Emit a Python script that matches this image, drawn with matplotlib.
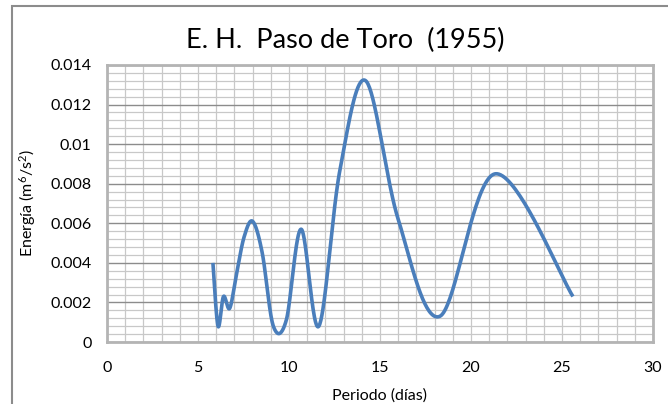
import numpy as np
import matplotlib
matplotlib.use("Agg")
import matplotlib.pyplot as plt
from matplotlib.patches import Rectangle
from matplotlib.ticker import MultipleLocator, FuncFormatter

plt.rcParams['font.family'] = ['Lato', 'DejaVu Sans']
plt.rcParams['mathtext.fontset'] = 'custom'
plt.rcParams['mathtext.rm'] = 'Lato'
plt.rcParams['mathtext.it'] = 'Lato:italic'

# periodos (dias) = 128/k, k = 22..5
periodo = [5.82, 6.10, 6.40, 6.74, 7.11, 7.53, 8.00, 8.53, 9.14, 9.85,
           10.67, 11.64, 12.80, 14.22, 16.00, 18.29, 21.33, 25.60]
energia = [0.0040, 0.0008, 0.0023, 0.0017, 0.0034, 0.0053, 0.0061, 0.0045, 0.0008, 0.0011,
           0.0057, 0.0008, 0.0087, 0.0132, 0.0062, 0.0013, 0.0085, 0.0023]

titulo = "E. H.  Paso de Toro  (1955)"
color_linea = "#4A7EBB"


def suavizar(x, y, n=40):
    # curva suavizada tipo Excel (Bezier / Catmull-Rom)
    p = np.column_stack([x, y])
    out = []
    for i in range(len(p) - 1):
        p0 = p[i - 1] if i > 0 else p[i]
        p1 = p[i]
        p2 = p[i + 1]
        p3 = p[i + 2] if i + 2 < len(p) else p[i + 1]
        c1 = p1 + (p2 - p0) / 6
        c2 = p2 - (p3 - p1) / 6
        t = np.linspace(0, 1, n)[:, None]
        seg = ((1 - t) ** 3) * p1 + 3 * ((1 - t) ** 2) * t * c1 + 3 * (1 - t) * t ** 2 * c2 + t ** 3 * p2
        out.append(seg if i == 0 else seg[1:])
    out = np.vstack(out)
    return out[:, 0], out[:, 1]


def fmt_y(v, pos):
    if abs(v) < 1e-12:
        return '0'
    return '%g' % round(v, 4)


fig = plt.figure(figsize=(6.68, 4.04), dpi=100)
fig.patches.append(Rectangle((12 / 668, -0.1), 1.2, (404 - 6) / 404 + 0.1,
                             transform=fig.transFigure, fill=False,
                             edgecolor="#8C8C8C", linewidth=1.5))

ax = fig.add_axes([107 / 668, 62 / 404, 546 / 668, 277 / 404])
xs, ys = suavizar(periodo, energia)
ax.plot(xs, ys, color=color_linea, linewidth=2.6, solid_capstyle='butt', zorder=3)

ax.set_xlim(0, 30)
ax.set_ylim(0, 0.014)
ax.xaxis.set_major_locator(MultipleLocator(5))
ax.xaxis.set_minor_locator(MultipleLocator(1))
ax.yaxis.set_major_locator(MultipleLocator(0.002))
ax.yaxis.set_minor_locator(MultipleLocator(0.0004))
ax.yaxis.set_major_formatter(FuncFormatter(fmt_y))
ax.grid(which='major', axis='y', color='#8C8C8C', linewidth=1.0)
ax.grid(which='minor', color='#C8C8C8', linewidth=0.9)
ax.grid(which='major', axis='x', color='#C8C8C8', linewidth=0.9)
ax.set_axisbelow(True)
ax.tick_params(which='both', length=0, labelsize=11.5, colors='#000000')
ax.tick_params(axis='x', pad=14)
ax.tick_params(axis='y', pad=11)
for s in ax.spines.values():
    s.set_color('#B4B4B4')
    s.set_linewidth(2)

ax.set_xlabel("Periodo (días)", fontsize=11.5, labelpad=9)
ax.set_ylabel("Energía (m$^6$/s$^2$)", fontsize=11.5, labelpad=9)
fig.text(0.517, 0.9, titulo, ha='center', va='center', fontsize=19.5)

fig.savefig("out.png", dpi=100)
